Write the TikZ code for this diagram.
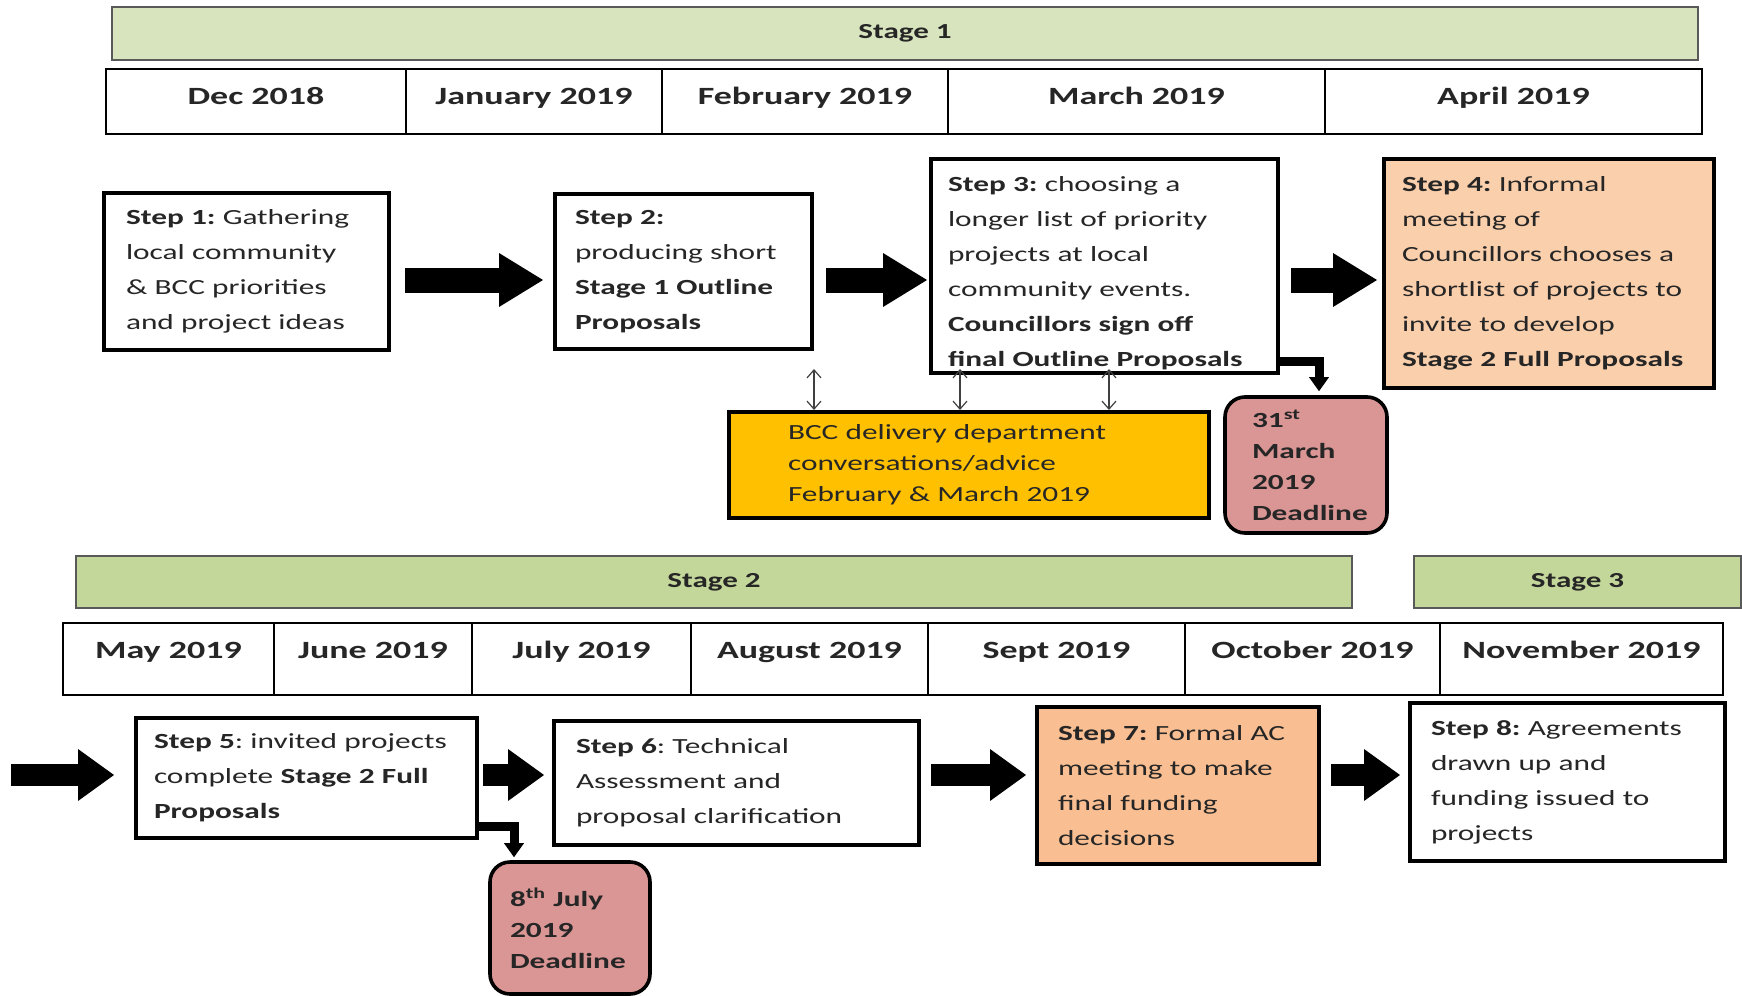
\documentclass[tikz,border=0pt]{standalone}
\usepackage{fontspec}
\setmainfont{Carlito}[FakeStretch=1.45]
\usepackage{tikz}
\usetikzlibrary{arrows.meta}
\definecolor{stagegreen}{RGB}{215,228,189}
\definecolor{stagegreentwo}{RGB}{196,215,155}
\definecolor{peach}{RGB}{250,207,172}
\definecolor{peachdark}{RGB}{249,191,146}
\definecolor{deadpink}{RGB}{218,150,148}
\definecolor{bccorange}{RGB}{255,192,0}
\hyphenpenalty=10000
\frenchspacing

\begin{document}
\begin{tikzpicture}[x=0.5pt,y=-0.5pt]
	\tikzstyle{stage}=[draw=black!65,line width=0.8pt,fill=stagegreen,font=\fontsize{10.7}{13}\selectfont\bfseries,text=black!85,minimum height=26.5pt,inner sep=0pt]
	\tikzstyle{month}=[draw=black,line width=1.4pt,font=\fontsize{12.4}{15}\selectfont\bfseries,text=black!85,text height=9pt,text depth=6.5pt,inner sep=0pt,minimum height=32.5pt]
	\tikzstyle{monthB}=[month,text depth=10pt,minimum height=36pt]
	\tikzstyle{stepbox}=[draw=black,line width=2pt,fill=white,align=left,font=\fontsize{10.8}{17.5}\selectfont,text=black!85,inner ysep=0pt]
	\tikzstyle{deadline}=[draw=black,line width=1.8pt,fill=deadpink,rounded corners=10pt,align=left,font=\fontsize{10.8}{15.5}\selectfont\bfseries,text=black!85,inner ysep=0pt]
	\tikzstyle{bigarrow}=[line width=12.5pt,-{Triangle[width=27pt,length=22pt,line width=0pt]}]
	\tikzstyle{bigarrowB}=[line width=11pt,-{Triangle[width=26pt,length=18pt,line width=0pt]}]
	\tikzstyle{bentarrow}=[line width=4.5pt,-{Triangle[width=10pt,length=7pt,line width=0pt]}]
	\tikzstyle{thinarrow}=[draw=black!75,line width=0.6pt,{Straight Barb[length=4pt,width=7pt]}-{Straight Barb[length=4pt,width=7pt]}]
	\useasboundingbox (0,0) rectangle (1742,996);

	\node[stage,minimum width=793pt](stA) at (905,33.5) {Stage 1};
	\node[month,minimum width=150pt](dec) at (256,101.5) {Dec 2018};
	\node[month,minimum width=128pt](jan) at (534,101.5) {January 2019};
	\node[month,minimum width=143pt](feb) at (805,101.5) {February 2019};
	\node[month,minimum width=188.5pt](mar) at (1136.5,101.5) {March 2019};
	\node[month,minimum width=188.5pt](apr) at (1513.5,101.5) {April 2019};

	\node[stepbox,text width=120.5pt,inner xsep=11pt,minimum height=78.5pt](s1) at (246.5,271.5) {\textbf{Step 1:} Gathering\\ local community\\ \& BCC priorities\\ and project ideas};
	\node[stepbox,text width=108.5pt,inner xsep=10pt,minimum height=77.5pt](s2) at (683.5,271.5) {\textbf{Step 2:}\\ producing short\\ \textbf{Stage 1 Outline}\\ \textbf{Proposals}};
	\node[stepbox,text width=156.5pt,inner xsep=8.5pt,minimum height=107pt,text height=15pt](s3) at (1104.5,266) {\textbf{Step 3:} choosing a\\ longer list of priority\\ projects at local\\ community events.\\ \textbf{Councillors sign off}\\ \textbf{final Outline Proposals}};
	\node[stepbox,fill=peach,text width=147pt,inner xsep=9pt,minimum height=114.5pt](s4) at (1549,273.5) {\textbf{Step 4:} Informal\\ meeting of\\ Councillors chooses a\\ shortlist of projects to\\ invite to develop\\ \textbf{Stage 2 Full Proposals}};
	\node[stepbox,fill=bccorange,font=\fontsize{10.8}{15.5}\selectfont,text width=181pt,inner xsep=29.5pt,minimum height=53pt](bcc) at (969,465) {BCC delivery department\\ conversations/advice\\ February \& March 2019};
	\node[deadline,text width=54pt,inner xsep=13.5pt,minimum height=68pt](d1) at (1306,465) {31\textsuperscript{st}\\ March\\ 2019\\ Deadline};

	\draw[bigarrow,shorten <=7pt,shorten >=5pt] ([yshift=-4.25pt]s1.east) -- ([yshift=-4.25pt]s1.east -| s2.west);
	\draw[bigarrow,shorten <=6pt,shorten >=1pt] ([yshift=-4.25pt]s2.east) -- ([yshift=-4.25pt]s2.east -| s3.west);
	\draw[bigarrow,shorten <=5.5pt,shorten >=2.5pt] ([yshift=-7pt]s3.east) -- ([yshift=-7pt]s3.east -| s4.west);
	\draw[bentarrow,shorten >=2pt] ([yshift=7pt]s3.south east) -| ([xshift=6.5pt]d1.north);
	\coordinate (t1) at ([yshift=-9pt]s2.south east);
	\coordinate (t2) at ([xshift=15.5pt,yshift=3pt]s3.south west);
	\coordinate (t3) at ([xshift=90pt,yshift=3pt]s3.south west);
	\draw[thinarrow] (t1) -- (t1 |- bcc.north);
	\draw[thinarrow] (t2) -- (t2 |- bcc.north);
	\draw[thinarrow] (t3) -- (t3 |- bcc.north);

	\node[stage,fill=stagegreentwo,minimum width=638pt,minimum height=26pt](stB) at (714,582) {Stage 2};
	\node[stage,fill=stagegreentwo,minimum width=163.5pt,minimum height=26pt](stC) at (1577.5,582) {Stage 3};
	\node[monthB,minimum width=105.5pt](may) at (168.5,659) {May 2019};
	\node[monthB,minimum width=99pt](jun) at (373,659) {June 2019};
	\node[monthB,minimum width=109.5pt](jul) at (581.5,659) {July 2019};
	\node[monthB,minimum width=118.5pt](aug) at (809.5,659) {August 2019};
	\node[monthB,minimum width=128.5pt](sep) at (1056.5,659) {Sept 2019};
	\node[monthB,minimum width=127.5pt](oct) at (1312.5,659) {October 2019};
	\node[monthB,minimum width=141.5pt](nov) at (1581.5,659) {November 2019};

	\node[stepbox,text width=152.5pt,inner xsep=9pt,minimum height=60pt](s5) at (306.5,778) {\textbf{Step 5}: invited projects\\ complete \textbf{Stage 2 Full}\\ \textbf{Proposals}};
	\node[stepbox,text width=160.5pt,inner xsep=11pt,minimum height=62pt](s6) at (736.5,783) {\textbf{Step 6}: Technical\\ Assessment and\\ proposal clarification};
	\node[stepbox,fill=peachdark,text width=120pt,inner xsep=10.5pt,minimum height=78.5pt](s7) at (1178,785.5) {\textbf{Step 7:} Formal AC\\ meeting to make\\ final funding\\ decisions};
	\node[stepbox,text width=136.5pt,inner xsep=10.5pt,minimum height=79pt](s8) at (1567.5,782) {\textbf{Step 8:} Agreements\\ drawn up and\\ funding issued to\\ projects};
	\node[deadline,text width=60pt,inner xsep=10pt,minimum height=66pt](d2) at (570,928) {8\textsuperscript{th} July\\ 2019\\ Deadline};

	\coordinate (in) at (11,775);
	\draw[bigarrowB,shorten >=10pt] (in) -- (in -| s5.west);
	\draw[bigarrowB,shorten <=2pt,shorten >=4pt] ([yshift=1.5pt]s5.east) -- ([yshift=1.5pt]s5.east -| s6.west);
	\draw[bigarrowB,shorten <=5pt,shorten >=4.5pt] ([yshift=4pt]s6.east) -- ([yshift=4pt]s6.east -| s7.west);
	\draw[bigarrowB,shorten <=5pt,shorten >=4pt] ([yshift=5.25pt]s7.east) -- ([yshift=5.25pt]s7.east -| s8.west);
	\draw[bentarrow,shorten >=1.5pt] ([yshift=7pt]s5.south east) -| ([xshift=-28pt]d2.north);
\end{tikzpicture}
\end{document}
